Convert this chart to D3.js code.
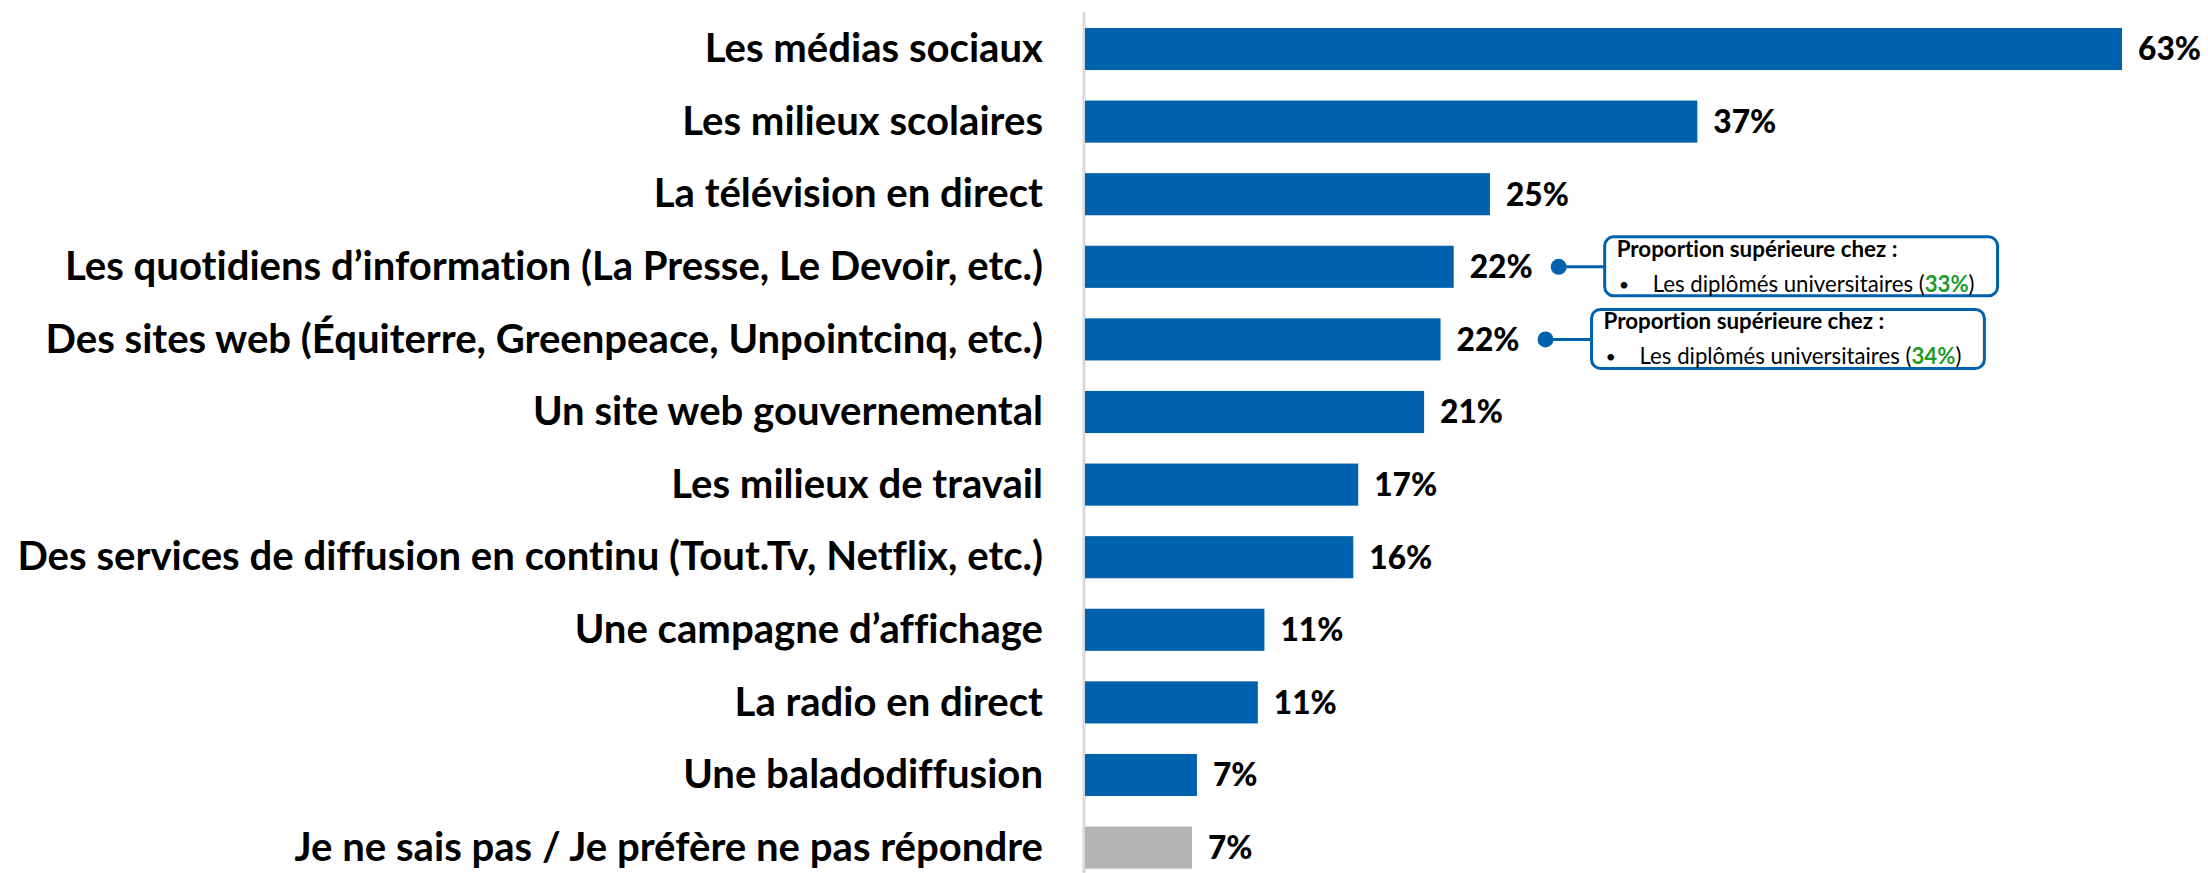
<!DOCTYPE html>
<html>
<head>
<meta charset="utf-8">
<script src="https://cdn.jsdelivr.net/npm/d3@7"></script>
<style>
  body { margin: 0; background: #fff; }
  svg text { font-family: Lato, "Open Sans", sans-serif; font-variant-ligatures: none; font-feature-settings: "liga" 0, "clig" 0; }
</style>
</head>
<body>
<div id="my_dataviz"></div>
<script>
// categories, top to bottom
var categories = [
  "Les médias sociaux",
  "Les milieux scolaires",
  "La télévision en direct",
  "Les quotidiens d’information (La Presse, Le Devoir, etc.)",
  "Des sites web (Équiterre, Greenpeace, Unpointcinq, etc.)",
  "Un site web gouvernemental",
  "Les milieux de travail",
  "Des services de diffusion en continu (Tout.Tv, Netflix, etc.)",
  "Une campagne d’affichage",
  "La radio en direct",
  "Une baladodiffusion",
  "Je ne sais pas / Je préfère ne pas répondre"
];
// bar lengths (labels are rounded)
var values = [63, 37.2, 24.6, 22.4, 21.6, 20.6, 16.6, 16.3, 10.9, 10.5, 6.8, 6.5];
var greyCategories = ["Je ne sais pas / Je préfère ne pas répondre"];

// callouts
var calloutTitle = "Proportion supérieure chez :";
var calloutCategories = [categories[3], categories[4]];
var calloutGroups = ["Les diplômés universitaires", "Les diplômés universitaires"];
var calloutValues = [33, 34];

var width = 2208, height = 873;
var blue = "#0062ad", grey = "#b3b3b3", green = "#1f9a2a";

var svg = d3.select("#my_dataviz").append("svg")
  .attr("width", width)
  .attr("height", height);

var y = d3.scaleBand()
  .domain(categories)
  .range([12.7, 12.7 + 72.6 * categories.length])
  .paddingInner(0.42)
  .paddingOuter(0.21);

var x = d3.scaleLinear()
  .domain([0, d3.max(values)])
  .range([1085, 2122]);

// little helper: font size that makes a text node this wide
function fitSize(node, target) {
  var w = node.getComputedTextLength();
  var fs = parseFloat(d3.select(node).style("font-size"));
  return fs * target / w;
}

// vertical axis line
svg.append("line")
  .attr("x1", 1084).attr("x2", 1084)
  .attr("y1", 12).attr("y2", height)
  .style("stroke", "#d9d9d9")
  .style("stroke-width", 3);

// bars
svg.selectAll(".bar")
  .data(categories)
  .enter()
  .append("rect")
  .attr("class", "bar")
  .attr("x", x(0))
  .attr("y", function (d) { return y(d); })
  .attr("width", function (d, i) { return x(values[i]) - x(0); })
  .attr("height", y.bandwidth())
  .style("fill", function (d) {
    return greyCategories.indexOf(d) >= 0 ? grey : blue;
  });

// category labels
var catLabels = svg.selectAll(".cat")
  .data(categories)
  .enter()
  .append("text")
  .attr("class", "cat")
  .attr("text-anchor", "end")
  .attr("x", 1043)
  .attr("y", function (d) { return y(d) + y.bandwidth() / 2; })
  .attr("dy", "0.33em")
  .style("font-weight", "bold")
  .style("font-size", "36px")
  .style("fill", "#000")
  .text(function (d) { return d; });

var longest = catLabels.filter(function (d) { return d === categories[7]; }).node();
catLabels.style("font-size", fitSize(longest, 1026) + "px");

// value labels
var valLabels = svg.selectAll(".val")
  .data(categories)
  .enter()
  .append("text")
  .attr("class", "val")
  .attr("x", function (d, i) { return x(values[i]) + 16; })
  .attr("y", function (d) { return y(d) + y.bandwidth() / 2; })
  .attr("dy", "0.36em")
  .style("font-weight", "900")
  .style("font-size", "32px")
  .style("fill", "#000")
  .text(function (d, i) { return Math.round(values[i]) + "%"; });

valLabels.style("font-size", fitSize(valLabels.node(), 63) + "px");

// callouts
for (var k = 0; k < calloutCategories.length; k++) {
  var idx = categories.indexOf(calloutCategories[k]);
  var cy = y(calloutCategories[k]) + y.bandwidth() / 2;
  var labelEnd = x(values[idx]) + 16 + valLabels.filter(function (d) { return d === calloutCategories[k]; }).node().getComputedTextLength();
  var dotX = labelEnd + 26;
  var boxX = dotX + 46;
  var boxY = cy - 30;

  var g = svg.append("g").attr("class", "callout");

  var title = g.append("text")
    .attr("x", boxX + 12)
    .attr("y", boxY + 20)
    .style("font-weight", "bold")
    .style("font-size", "20px")
    .style("fill", "#000")
    .text(calloutTitle);
  title.style("font-size", fitSize(title.node(), 281) + "px");

  g.append("text")
    .attr("x", boxX + 14)
    .attr("y", boxY + 54)
    .style("font-size", "18px")
    .style("fill", "#000")
    .text("•");

  var line = g.append("text")
    .attr("x", boxX + 48)
    .attr("y", boxY + 55)
    .style("font-size", "20px")
    .style("fill", "#000");
  line.append("tspan").text(calloutGroups[k] + " (");
  line.append("tspan").style("fill", green).style("font-weight", "bold").text(calloutValues[k] + "%");
  line.append("tspan").text(")");
  line.style("font-size", fitSize(line.node(), 322) + "px");

  var boxW = 48 + line.node().getComputedTextLength() + 23;

  g.insert("rect", ":first-child")
    .attr("x", boxX)
    .attr("y", boxY)
    .attr("width", boxW)
    .attr("height", 59)
    .attr("rx", 9)
    .style("fill", "#fff")
    .style("stroke", blue)
    .style("stroke-width", 3);

  g.append("line")
    .attr("x1", dotX).attr("x2", boxX)
    .attr("y1", cy).attr("y2", cy)
    .style("stroke", blue)
    .style("stroke-width", 3);

  g.append("circle")
    .attr("cx", dotX)
    .attr("cy", cy)
    .attr("r", 8)
    .style("fill", blue);
}
</script>
</body>
</html>
